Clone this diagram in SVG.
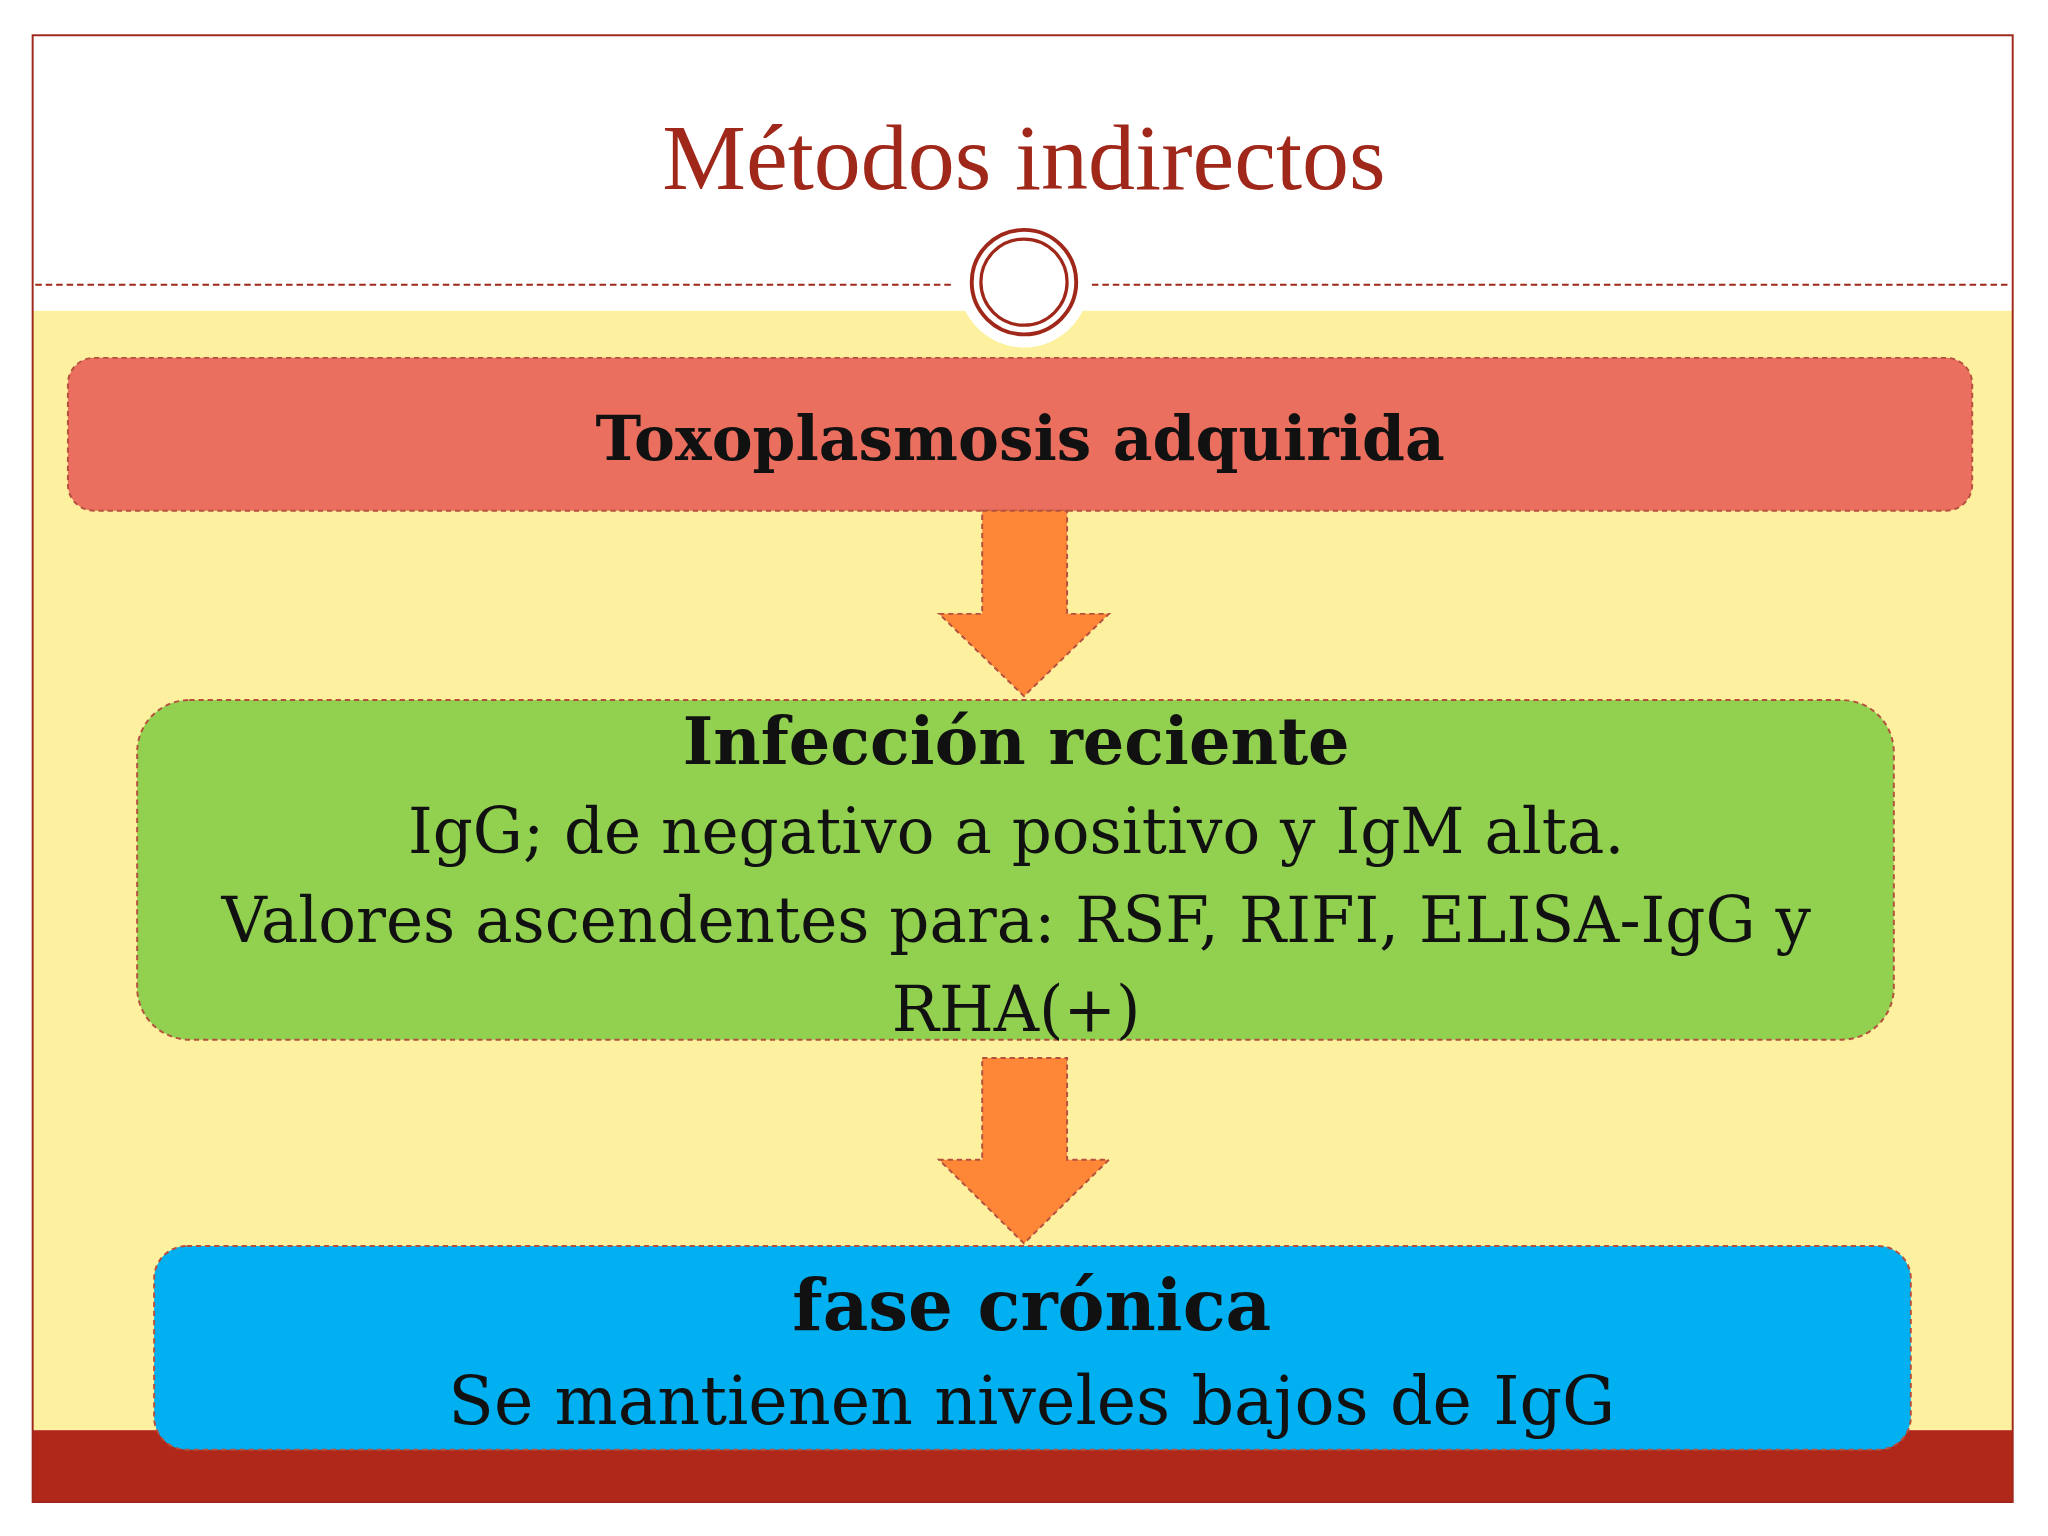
<svg xmlns="http://www.w3.org/2000/svg" width="2048" height="1536" viewBox="0 0 2048 1536">
<style>
.box{stroke:#B5503F;stroke-width:1.5;stroke-dasharray:4 3}
.t{font-family:"DejaVu Serif","Liberation Serif",serif;text-anchor:middle;fill:#111}
.b{font-weight:bold}
</style>
<rect width="2048" height="1536" fill="#fff"/>
<g transform="scale(1.3061)">
<rect x="25" y="238" width="1516" height="857" fill="#FDF1A0"/>
<rect x="25" y="1095" width="1516" height="55" fill="#B0281A"/>
<rect x="25" y="27" width="1516" height="1123" fill="none" stroke="#A0281A" stroke-width="1.5"/>
<g stroke="#A0281A" stroke-width="1.5" stroke-dasharray="5 3"><line x1="27" y1="218" x2="728" y2="218"/><line x1="836" y1="218" x2="1540" y2="218"/></g>
<circle cx="784" cy="216" r="50" fill="#fff"/>
<circle cx="784" cy="216" r="40" fill="none" stroke="#A0281A" stroke-width="3"/>
<circle cx="784" cy="216" r="33" fill="none" stroke="#A0281A" stroke-width="2.5"/>
<text x="784" y="145" font-family="'Liberation Serif',serif" font-size="72" text-anchor="middle" fill="#A0281A">Métodos indirectos</text>
<g id="box1"><rect class="box" x="52" y="274" width="1458" height="117" rx="20" fill="#EB6F5F"/>
<text class="t b" x="781" y="352" font-size="47">Toxoplasmosis adquirida</text></g>
<g id="box2"><rect class="box" x="105" y="536" width="1345" height="260" rx="40" fill="#92D050"/>
<text class="t b" x="778" y="585" font-size="50">Infección reciente</text>
<text class="t" x="778" y="653" font-size="48">IgG; de negativo a positivo y IgM alta.</text>
<text class="t" x="778" y="721" font-size="48">Valores ascendentes para: RSF, RIFI, ELISA-IgG y</text>
<text class="t" x="778" y="789" font-size="48">RHA(+)</text></g>
<g id="box3"><rect class="box" x="118" y="954" width="1345" height="156" rx="25" fill="#00B0F0"/>
<text class="t b" x="790" y="1018" font-size="54">fase crónica</text>
<text class="t" x="790" y="1090" font-size="51">Se mantienen niveles bajos de IgG</text></g>
<g id="connectors" fill="#FD8637" class="box">
<path class="box" d="M752 391 H817 V470 H849 L784 533 L719 470 H752 Z"/>
<path class="box" d="M752 810 H817 V888 H849 L784 952 L719 888 H752 Z"/>
</g>
</g>
</svg>
